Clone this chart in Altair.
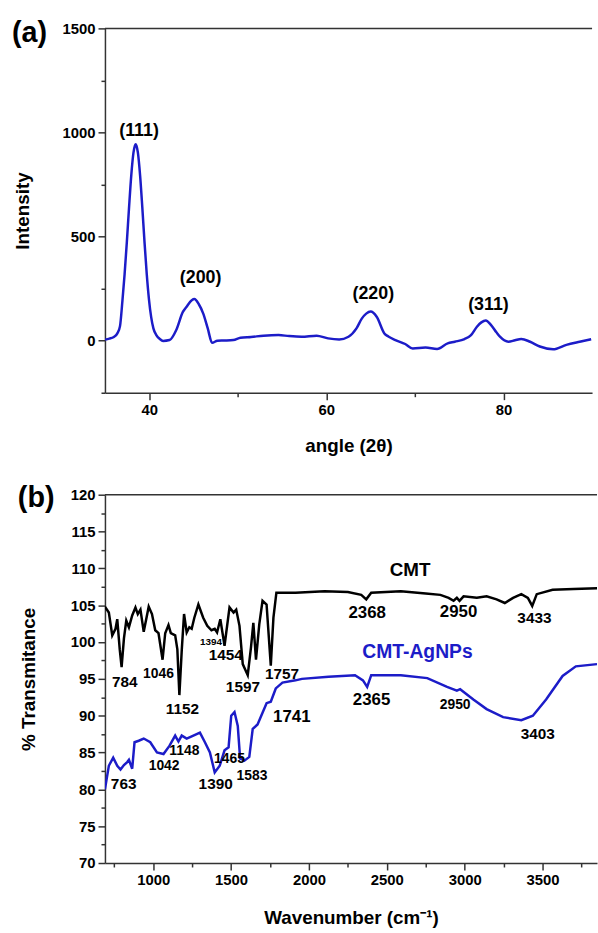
import altair as alt
import pandas as pd

# ---------------- (a) XRD ----------------
xrd_angle = [35.0, 35.5, 36.0, 36.4, 36.7, 36.97, 37.22, 37.47, 37.72, 37.97,
             38.22, 38.47, 38.72, 38.97, 39.22, 39.47, 39.72, 39.97, 40.22, 40.47,
             40.8, 41.2, 41.56, 42.3, 43.05, 43.8, 44.2, 44.8, 45.1, 45.6,
             46.1, 46.6, 47.1, 47.7, 48.5, 49.5, 50.3, 51.5, 52.9, 54.6,
             55.8, 57.2, 58.9, 60.2, 61.45, 62.5, 63.4, 64.0, 64.5, 65.0,
             65.7, 66.55, 67.0, 67.8, 68.9, 69.75, 71.2, 72.5, 73.7, 74.5,
             75.6, 76.3, 77.0, 77.5, 78.0, 78.6, 79.2, 79.6, 80.55, 81.3,
             82.0, 83.0, 84.1, 85.6, 87.1, 88.6, 89.9]
xrd_intensity = [5, 10, 18, 35, 70, 190, 320, 472, 639, 793,
                 903, 943, 903, 793, 639, 472, 320, 199, 113, 59,
                 27, 8, -1, 3, 51, 138, 162, 194, 200, 175,
                 130, 60, -10, 0, 1, 3, 14, 18, 24, 27,
                 22, 19, 24, 11, 6, 19, 59, 106, 130, 140,
                 114, 35, 20, 3, -16, -37, -33, -40, -13, -5,
                 8, 25, 67, 88, 97, 75, 40, 19, -5, 2,
                 8, -5, -28, -41, -20, -5, 7]
xrd_label_text = ["(111)", "(200)", "(220)", "(311)"]
xrd_label_angle = [38.85, 45.8, 65.3, 78.3]
xrd_label_intensity = [1007, 300, 226, 170]

# ---------------- (b) FTIR ----------------
cmt_wn = [690, 715, 737, 758, 769, 785, 797, 812, 827, 844,
          865, 886, 901, 918, 939, 971, 992, 1013, 1034, 1060,
          1077, 1098, 1113, 1141, 1155, 1168, 1183, 1198, 1215, 1232,
          1247, 1264, 1290, 1321, 1347, 1374, 1395, 1410, 1431, 1458,
          1490, 1516, 1533, 1554, 1575, 1607, 1628, 1643, 1660, 1681,
          1702, 1728, 1755, 1772, 1791, 1914, 2100, 2250, 2336, 2368,
          2400, 2590, 2750, 2844, 2897, 2929, 2950, 2967, 2993, 3078,
          3141, 3205, 3258, 3311, 3364, 3406, 3434, 3463, 3565, 3700,
          3850]
cmt_t = [104.8, 104.0, 100.9, 101.8, 103.1, 99.0, 96.6, 100.5, 102.9, 102.0,
         103.6, 104.7, 103.8, 104.4, 101.4, 104.8, 103.8, 101.6, 101.2, 97.6,
         101.2, 102.3, 101.2, 100.9, 99.0, 92.8, 98.8, 103.8, 101.3, 102.0,
         101.8, 103.3, 105.1, 103.3, 102.2, 101.6, 101.8, 101.3, 103.1, 99.5,
         104.7, 104.0, 104.4, 102.2, 97.0, 95.5, 99.3, 102.6, 97.6, 102.4,
         105.6, 105.1, 96.8, 103.3, 106.7, 106.7, 106.9, 106.8, 106.4, 105.8,
         106.7, 106.9, 106.6, 106.4, 106.0, 105.6, 106.0, 105.6, 106.2, 106.0,
         106.2, 105.8, 105.3, 106.0, 106.5, 106.0, 104.9, 106.5, 107.1, 107.2,
         107.3]
ag_wn = [690, 715, 743, 769, 790, 812, 833, 844, 865, 880,
         907, 939, 981, 1024, 1066, 1104, 1141, 1162, 1183, 1215,
         1258, 1300, 1332, 1364, 1395, 1427, 1458, 1484, 1501, 1522,
         1543, 1558, 1586, 1617, 1639, 1670, 1702, 1728, 1755, 1787,
         1830, 1914, 1955, 2126, 2296, 2347, 2374, 2400, 2590, 2760,
         2887, 2950, 2971, 3056, 3141, 3247, 3364, 3438, 3523, 3629,
         3714, 3850]
ag_t = [80.0, 83.2, 84.3, 83.2, 82.7, 83.3, 83.7, 84.0, 82.8, 86.4,
        86.6, 86.9, 86.4, 85.0, 84.8, 85.9, 87.3, 86.5, 87.3, 86.9,
        87.3, 87.7, 86.4, 85.0, 82.3, 83.2, 85.3, 85.7, 90.0, 90.5,
        88.6, 84.2, 83.9, 84.4, 88.2, 88.8, 90.4, 91.7, 91.9, 93.7,
        94.5, 94.8, 95.0, 95.3, 95.5, 94.8, 93.9, 95.5, 95.5, 95.1,
        93.9, 93.4, 93.6, 92.2, 90.9, 89.8, 89.4, 90.0, 92.2, 95.4,
        96.7, 97.0]

# peak annotations (grouped by text size)
big_text = ["1741", "2368", "2950", "2365"]
big_wn = [1890, 2374, 2961, 2402]
big_t = [89.8, 104.0, 104.1, 92.1]
mid_text = ["784", "1152", "1454", "1597", "1757", "3433", "763", "1390", "3403"]
mid_wn = [817, 1187, 1466, 1576, 1827, 3448, 810, 1401, 3470]
mid_t = [94.5, 90.9, 98.3, 93.9, 95.6, 103.3, 80.7, 80.7, 87.5]
sml_text = ["1046", "1148", "1465", "1583", "2950", "1042"]
sml_wn = [1034, 1200, 1490, 1634, 2939, 1070]
sml_t = [95.7, 85.2, 84.1, 81.8, 91.5, 83.2]
tiny_text = ["1394"]
tiny_wn = [1371]
tiny_t = [100.0]
series_text = ["CMT", "CMT-AgNPs"]
series_wn = [2650, 2697]
series_t = [109.8, 98.6]

FONT = "Liberation Sans"
BLUE = "#1c1cc8"
AX = "#333333"

WA, HA = 492, 368
WB, HB = 497, 372

# ---------- panel (a) ----------
xa = alt.Scale(domain=[35, 90], nice=False, zero=False)
ya = alt.Scale(domain=[-250, 1500], nice=False, zero=False)

xrd_df = pd.DataFrame({"angle": xrd_angle, "intensity": xrd_intensity})
xrd_lbl = pd.DataFrame({"t": xrd_label_text, "angle": xrd_label_angle,
                        "intensity": xrd_label_intensity})

axis_xa = alt.Axis(values=[40, 50, 60, 70, 80], tickCount=40,
                   labelExpr="datum.value % 20 === 0 ? datum.label : ''",
                   tickSize={"condition": {"test": "datum.value % 20 === 0", "value": 7}, "value": 4},
                   title="angle (2θ)", titleY=53, titleBaseline="middle",
                   labelFlush=False, labelOverlap=False, format="d")
axis_ya = alt.Axis(values=[-250, 0, 250, 500, 750, 1000, 1250, 1500], tickCount=40,
                   labelExpr="datum.value % 500 === 0 ? datum.label : ''",
                   tickSize={"condition": {"test": "datum.value % 500 === 0", "value": 7}, "value": 4},
                   title="Intensity", titleX=-83, titleBaseline="middle",
                   labelOverlap=False, format="d")

line_a = alt.Chart(xrd_df).mark_line(color=BLUE, strokeWidth=2.5, interpolate="monotone", clip=True).encode(
    x=alt.X("angle:Q", scale=xa, axis=axis_xa),
    y=alt.Y("intensity:Q", scale=ya, axis=axis_ya),
)
lbl_a = alt.Chart(xrd_lbl).mark_text(font=FONT, fontSize=18, fontWeight="bold", color="black").encode(
    x=alt.X("angle:Q", scale=xa),
    y=alt.Y("intensity:Q", scale=ya),
    text="t:N",
)
border_a = alt.Chart(pd.DataFrame({"k": [0]})).mark_rule(color=AX, strokeWidth=1.5).encode(
    x=alt.value(0), x2=alt.value(WA), y=alt.value(0))
tag_a = alt.Chart(pd.DataFrame({"t": ["(a)"]})).mark_text(
    font=FONT, fontSize=29, fontWeight="bold", align="left", baseline="middle", color="black").encode(
    text="t:N", x=alt.value(-94), y=alt.value(5))

panel_a = alt.layer(line_a, lbl_a, border_a, tag_a).properties(width=WA, height=HA)

# ---------- panel (b) ----------
xb = alt.Scale(domain=[690, 3850], nice=False, zero=False)
yb = alt.Scale(domain=[70, 120], nice=False, zero=False)

cmt_df = pd.DataFrame({"wn": cmt_wn, "t": cmt_t})
ag_df = pd.DataFrame({"wn": ag_wn, "t": ag_t})

axis_xb = alt.Axis(values=[750, 1000, 1250, 1500, 1750, 2000, 2250, 2500, 2750, 3000, 3250, 3500, 3750],
                   tickCount=40,
                   labelExpr="datum.value % 500 === 0 ? datum.label : ''",
                   tickSize={"condition": {"test": "datum.value % 500 === 0", "value": 7}, "value": 4},
                   title="Wavenumber (cm⁻¹)", titleY=55, titleBaseline="middle",
                   labelFlush=False, labelOverlap=False, format="d")
axis_yb = alt.Axis(values=[70, 72.5, 75, 77.5, 80, 82.5, 85, 87.5, 90, 92.5, 95, 97.5,
                           100, 102.5, 105, 107.5, 110, 112.5, 115, 117.5, 120],
                   tickCount=40,
                   labelExpr="datum.value % 5 === 0 ? format(datum.value, 'd') : ''",
                   tickSize={"condition": {"test": "datum.value % 5 === 0", "value": 7}, "value": 4},
                   title="% Transmitance", titleX=-77, titleBaseline="middle",
                   labelOverlap=False)

cmt_line = alt.Chart(cmt_df).mark_line(color="black", strokeWidth=2.5, clip=True).encode(
    x=alt.X("wn:Q", scale=xb, axis=axis_xb),
    y=alt.Y("t:Q", scale=yb, axis=axis_yb),
)
ag_line = alt.Chart(ag_df).mark_line(color=BLUE, strokeWidth=2.5, clip=True).encode(
    x=alt.X("wn:Q", scale=xb),
    y=alt.Y("t:Q", scale=yb),
)


def labels(texts, wns, ts, size, color="black"):
    df = pd.DataFrame({"s": texts, "wn": wns, "t": ts})
    return alt.Chart(df).mark_text(font=FONT, fontSize=size, fontWeight="bold", color=color).encode(
        x=alt.X("wn:Q", scale=xb),
        y=alt.Y("t:Q", scale=yb),
        text="s:N",
    )


lbl_big = labels(big_text, big_wn, big_t, 17)
lbl_mid = labels(mid_text, mid_wn, mid_t, 15.5)
lbl_sml = labels(sml_text, sml_wn, sml_t, 14)
lbl_tiny = labels(tiny_text, tiny_wn, tiny_t, 10)
lbl_cmt = labels(series_text[:1], series_wn[:1], series_t[:1], 19)
lbl_ag = labels(series_text[1:], series_wn[1:], series_t[1:], 19.5, BLUE)

border_b = alt.Chart(pd.DataFrame({"k": [0]})).mark_rule(color=AX, strokeWidth=1.5).encode(
    x=alt.value(0), x2=alt.value(WB), y=alt.value(0))
tag_b = alt.Chart(pd.DataFrame({"t": ["(b)"]})).mark_text(
    font=FONT, fontSize=29, fontWeight="bold", align="left", baseline="middle", color="black").encode(
    text="t:N", x=alt.value(-88), y=alt.value(3))

panel_b = alt.layer(cmt_line, ag_line, lbl_big, lbl_mid, lbl_sml, lbl_tiny,
                    lbl_cmt, lbl_ag, border_b, tag_b).properties(width=WB, height=HB)

chart = alt.vconcat(panel_a, panel_b, spacing=29).properties(
    padding={"left": 12, "top": 15, "right": 0, "bottom": 0}
).configure_view(stroke=None).configure_axis(
    grid=False,
    domainColor=AX, domainWidth=1.5,
    tickColor=AX, tickWidth=1.5,
    labelFont=FONT, labelFontSize=15, labelFontWeight="bold", labelColor="black", labelPadding=3,
    titleFont=FONT, titleFontSize=19, titleFontWeight="bold", titleColor="black",
)

chart.save("out.html", embed_options={"renderer": "svg", "actions": False})
